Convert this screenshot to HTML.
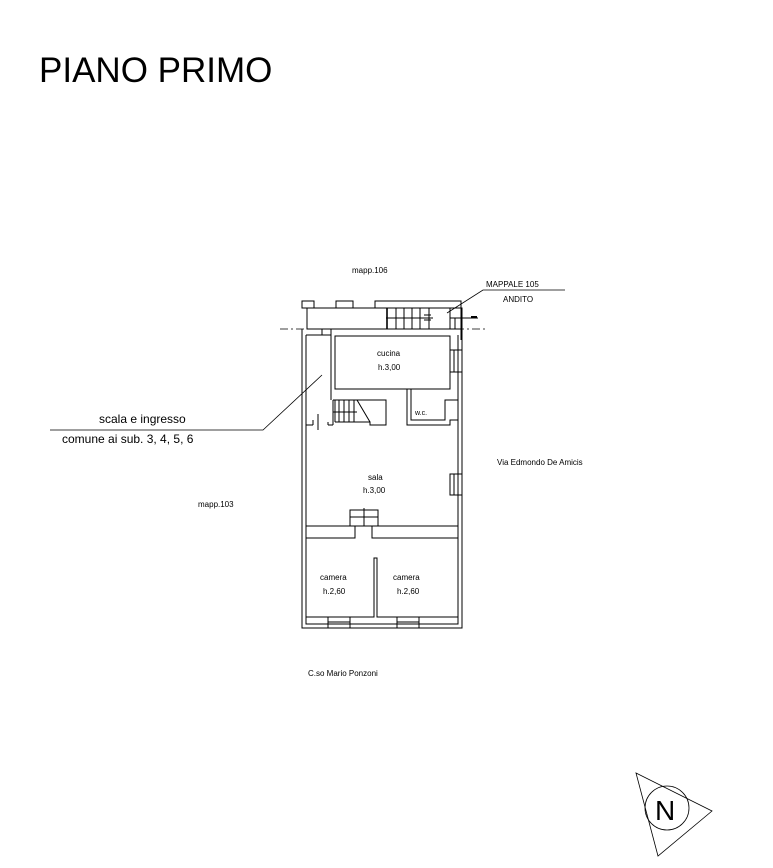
<!DOCTYPE html>
<html><head><style>
html,body{margin:0;padding:0;background:#fff;}
svg{display:block;}
text{font-family:"Liberation Sans",sans-serif;fill:#000;}
</style></head><body>
<svg width="773" height="868" viewBox="0 0 773 868" xmlns="http://www.w3.org/2000/svg">
<text x="39" y="82" font-size="35">PIANO PRIMO</text>
<g stroke="#000" stroke-width="1" fill="none">
<line x1="280" y1="329" x2="485" y2="329" stroke-dasharray="8,3,2,3" stroke-width="0.8"/>
<polyline points="307,308 302,308 302,301 314,301 314,308"/>
<polyline points="336,308 336,301 353,301 353,308"/>
<polyline points="375,308 375,301 461,301 461,340"/>
<rect x="307" y="308" width="155" height="21"/>
<line x1="387" y1="308" x2="387" y2="329" stroke-width="1.6"/>
<line x1="396" y1="308" x2="396" y2="329"/>
<line x1="404" y1="308" x2="404" y2="329"/>
<line x1="412" y1="308" x2="412" y2="329"/>
<line x1="420" y1="308" x2="420" y2="329"/>
<line x1="429" y1="308" x2="429" y2="329"/>
<line x1="386" y1="318" x2="433" y2="318"/>
<line x1="424" y1="315" x2="431" y2="315"/><line x1="424" y1="320" x2="431" y2="320"/>
<line x1="450" y1="308" x2="450" y2="329"/>
<line x1="450" y1="318" x2="478" y2="318"/>
<line x1="455" y1="318" x2="455" y2="329"/>
<line x1="471" y1="317" x2="477" y2="317" stroke-width="2"/>
<polyline points="302,329 302,628 462,628 462,329"/>
<polyline points="306,335 306,624 458,624 458,335"/>
<line x1="306" y1="335" x2="331" y2="335"/>
<line x1="331" y1="335" x2="331" y2="400"/>
<line x1="322" y1="329" x2="322" y2="335"/>
<line x1="331" y1="329" x2="331" y2="335"/>
<rect x="335" y="336" width="115" height="53"/>
<rect x="450" y="350" width="12" height="22"/>
<line x1="454" y1="350" x2="454" y2="372"/><line x1="458" y1="350" x2="458" y2="372"/>
<polyline points="333,400 386,400 386,425 370,425 370,422 362,422"/>
<line x1="335" y1="400" x2="335" y2="422"/>
<line x1="333" y1="400" x2="333" y2="425"/>
<line x1="328" y1="425" x2="333" y2="425"/><line x1="328" y1="422" x2="328" y2="425"/>
<line x1="306" y1="425" x2="313" y2="425"/><line x1="313" y1="420" x2="313" y2="425"/>
<line x1="333" y1="412" x2="357" y2="412"/>
<line x1="339" y1="400" x2="339" y2="422"/><line x1="344" y1="400" x2="344" y2="422"/>
<line x1="349" y1="400" x2="349" y2="422"/><line x1="354" y1="400" x2="354" y2="422"/>
<line x1="357" y1="400" x2="370" y2="422"/>
<line x1="335" y1="422" x2="362" y2="422"/>
<line x1="318" y1="414" x2="318" y2="430"/>
<polyline points="407,389 407,425 450,425 450,420 458,420"/>
<polyline points="411,389 411,420 445,420 445,400 458,400"/>
<line x1="306" y1="526" x2="350" y2="526"/>
<line x1="378" y1="526" x2="458" y2="526"/>
<rect x="350" y="510" width="28" height="16"/>
<line x1="350" y1="517" x2="378" y2="517"/>
<line x1="364" y1="508" x2="364" y2="526"/>
<rect x="450" y="474" width="12" height="21"/>
<line x1="454" y1="474" x2="454" y2="495"/><line x1="458" y1="474" x2="458" y2="495"/>
<polyline points="306,538 355,538 355,526"/>
<polyline points="372,526 372,538 377,538 458,538"/>
<polyline points="306,617 374,617 374,558 377,558 377,617 458,617"/>
<rect x="328" y="617" width="22" height="11"/>
<line x1="328" y1="622" x2="350" y2="622"/>
<rect x="397" y="617" width="22" height="11"/>
<line x1="397" y1="622" x2="419" y2="622"/>
<polyline points="50,430 263,430 322,375" stroke-width="0.8"/>
<polyline points="447,313 483,290 565,290" stroke-width="0.8"/>
<polygon points="636,773 712,811 658,856" stroke-width="0.8"/>
<circle cx="667" cy="808" r="22" stroke-width="0.8"/>
</g>
<g font-size="8">
<text x="352" y="273">mapp.106</text>
<text x="486" y="287">MAPPALE 105</text>
<text x="503" y="302">ANDITO</text>
<text x="377" y="356">cucina</text>
<text x="378" y="370">h.3,00</text>
<text x="415" y="415" font-size="7">w.c.</text>
<text x="368" y="480">sala</text>
<text x="363" y="493">h.3,00</text>
<text x="320" y="580">camera</text>
<text x="323" y="594">h.2,60</text>
<text x="393" y="580">camera</text>
<text x="397" y="594">h.2,60</text>
<text x="497" y="465">Via Edmondo De Amicis</text>
<text x="198" y="507">mapp.103</text>
<text x="308" y="676">C.so Mario Ponzoni</text>
</g>
<text x="99" y="423" font-size="12">scala e ingresso</text>
<text x="62" y="443" font-size="12">comune ai sub. 3, 4, 5, 6</text>
<text x="655" y="820" font-size="28">N</text>
</svg>
</body></html>
